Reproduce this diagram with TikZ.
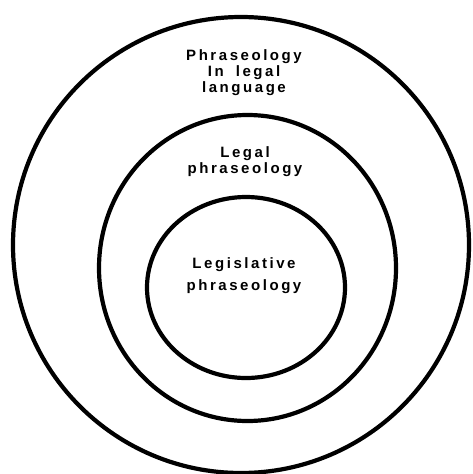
\documentclass[tikz,border=0pt]{standalone}
\usepackage{fontspec}
\setmainfont{Liberation Sans}[LetterSpace=17,WordSpace=1.8]
\begin{document}
\begin{tikzpicture}[x=1pt,y=-1pt,
  ring/.style={line width=4.2pt,draw=black},
  lbl/.style={align=center,font=\bfseries\fontsize{15}{16}\selectfont,inner sep=0pt}]
\useasboundingbox (0,0) rectangle (473,474);
\draw[ring] (241,245) ellipse [x radius=228, y radius=228];
\draw[ring] (247.5,268) ellipse [x radius=148.5, y radius=153];
\draw[ring] (246,287.5) ellipse [x radius=99, y radius=90.5];
\node[lbl] (outer) at (244,73) {Phraseology\\In legal\\language};
\node[lbl] (middle) at (245,162) {Legal\\phraseology};
\node[lbl,font=\bfseries\fontsize{15}{22}\selectfont] (inner) at (244,276) {Legislative\\phraseology};
\end{tikzpicture}
\end{document}
